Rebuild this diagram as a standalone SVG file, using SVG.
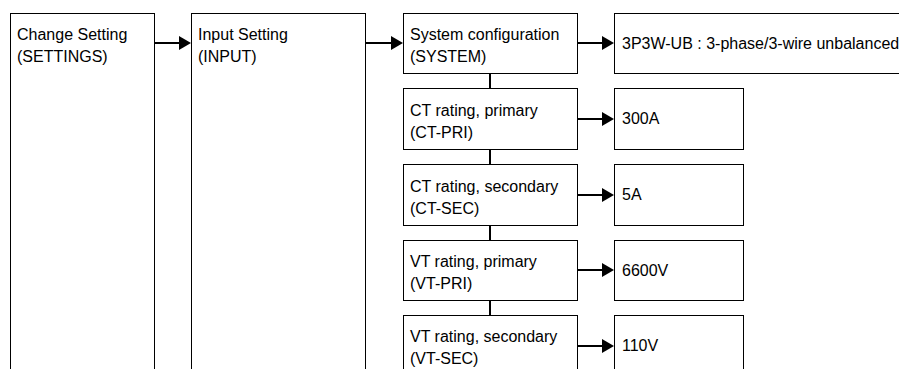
<svg xmlns="http://www.w3.org/2000/svg" width="899" height="369" viewBox="0 0 899 369">
  <style>
    .box { fill: #ffffff; stroke: #000000; stroke-width: 1; }
    .lbl { font-family: "Liberation Sans", Arial, Helvetica, sans-serif; font-size: 16px; fill: #000000; }
    .arr { stroke: #000000; stroke-width: 2; fill: none; marker-end: url(#head); }
    .vln { stroke: #000000; stroke-width: 2; fill: none; }
  </style>
  <defs>
    <marker id="head" markerUnits="userSpaceOnUse" markerWidth="12" markerHeight="14" refX="7" refY="7" orient="auto">
      <path d="M0,0 L12,7 L0,14 z" fill="#000000"/>
    </marker>
  </defs>
  <rect width="899" height="369" fill="#ffffff"/>

  <g id="settings">
    <rect class="box" x="10.5" y="13.5" width="144" height="370"/>
    <text class="lbl" x="17" y="40">Change Setting</text>
    <text class="lbl" x="17" y="62">(SETTINGS)</text>
  </g>
  <g id="input">
    <rect class="box" x="191.5" y="13.5" width="174" height="370"/>
    <text class="lbl" x="198" y="40">Input Setting</text>
    <text class="lbl" x="198" y="62">(INPUT)</text>
  </g>

  <g id="system">
    <rect class="box" x="403.5" y="13.5" width="174" height="60"/>
    <text class="lbl" x="410" y="40">System configuration</text>
    <text class="lbl" x="410" y="62">(SYSTEM)</text>
  </g>
  <g id="ct-pri">
    <rect class="box" x="403.5" y="88.5" width="174" height="61"/>
    <text class="lbl" x="410" y="116">CT rating, primary</text>
    <text class="lbl" x="410" y="138">(CT-PRI)</text>
  </g>
  <g id="ct-sec">
    <rect class="box" x="403.5" y="164.5" width="174" height="61"/>
    <text class="lbl" x="410" y="192">CT rating, secondary</text>
    <text class="lbl" x="410" y="214">(CT-SEC)</text>
  </g>
  <g id="vt-pri">
    <rect class="box" x="403.5" y="240.5" width="174" height="60"/>
    <text class="lbl" x="410" y="267">VT rating, primary</text>
    <text class="lbl" x="410" y="289">(VT-PRI)</text>
  </g>
  <g id="vt-sec">
    <rect class="box" x="403.5" y="315.5" width="174" height="70"/>
    <text class="lbl" x="410" y="342">VT rating, secondary</text>
    <text class="lbl" x="410" y="364">(VT-SEC)</text>
  </g>

  <g id="val-system">
    <rect class="box" x="614.5" y="13.5" width="300" height="60"/>
    <text class="lbl" x="622" y="48.5">3P3W-UB : 3-phase/3-wire unbalanced</text>
  </g>
  <g id="val-ct-pri">
    <rect class="box" x="614.5" y="88.5" width="129" height="61"/>
    <text class="lbl" x="622" y="124">300A</text>
  </g>
  <g id="val-ct-sec">
    <rect class="box" x="614.5" y="164.5" width="129" height="61"/>
    <text class="lbl" x="622" y="200">5A</text>
  </g>
  <g id="val-vt-pri">
    <rect class="box" x="614.5" y="240.5" width="129" height="60"/>
    <text class="lbl" x="622" y="275.5">6600V</text>
  </g>
  <g id="val-vt-sec">
    <rect class="box" x="614.5" y="315.5" width="129" height="70"/>
    <text class="lbl" x="622" y="351">110V</text>
  </g>

  <g id="connectors">
    <line class="arr" x1="155" y1="43" x2="186" y2="43"/>
    <line class="arr" x1="366" y1="43" x2="398" y2="43"/>
    <line class="arr" x1="578" y1="43" x2="609" y2="43"/>
    <line class="arr" x1="578" y1="119" x2="609" y2="119"/>
    <line class="arr" x1="578" y1="195" x2="609" y2="195"/>
    <line class="arr" x1="578" y1="270" x2="609" y2="270"/>
    <line class="arr" x1="578" y1="346" x2="609" y2="346"/>
    <line class="vln" x1="490" y1="74" x2="490" y2="88"/>
    <line class="vln" x1="490" y1="150" x2="490" y2="164"/>
    <line class="vln" x1="490" y1="226" x2="490" y2="240"/>
    <line class="vln" x1="490" y1="301" x2="490" y2="315"/>
  </g>
</svg>
